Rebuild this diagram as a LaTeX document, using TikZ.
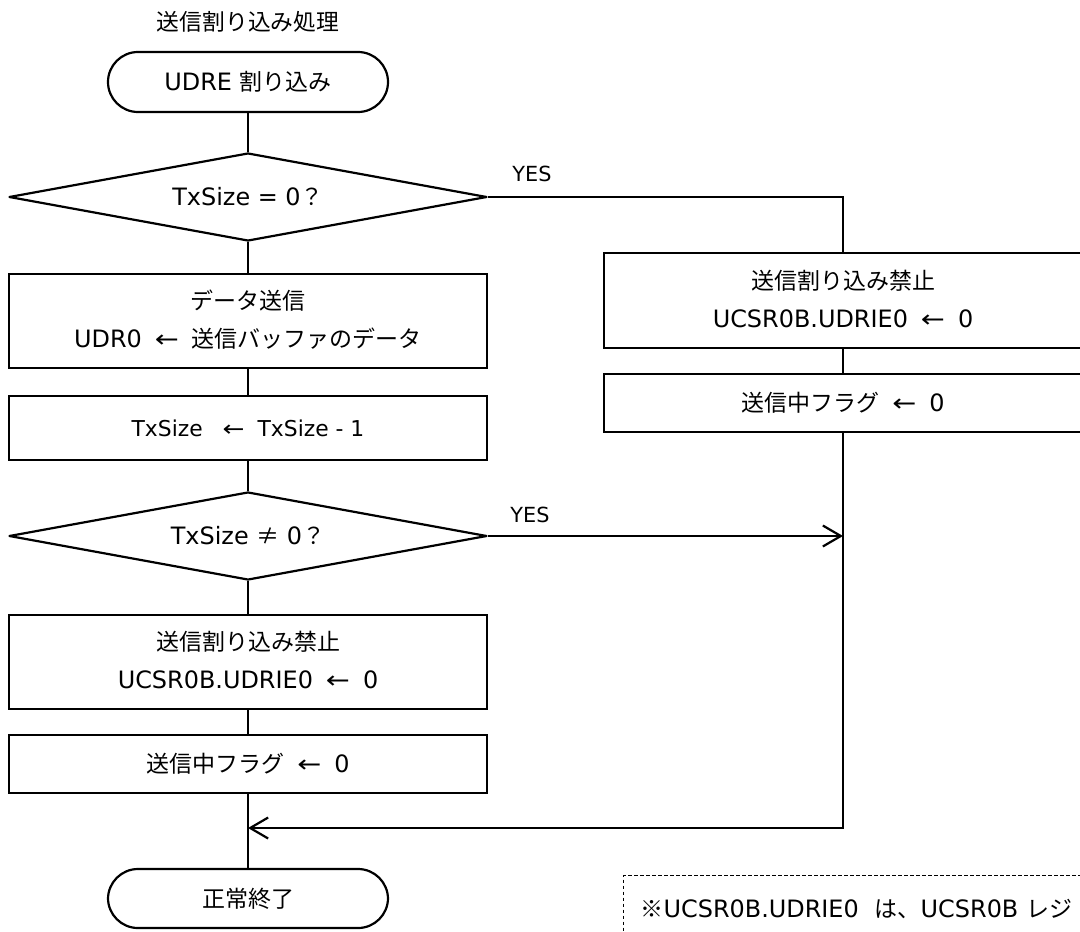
\documentclass[tikz,border=0pt]{standalone}
\usepackage{graphicx}
\usepackage{fontspec}
\setmainfont{DejaVu Sans}[Scale=1.04]
\newfontfamily\jp{Noto Sans CJK JP}
\usetikzlibrary{shapes.geometric,arrows.meta}
\newcommand\J[1]{{\jp #1}}
\newcommand\la{\hspace{6.5pt}\scalebox{1.2}[1]{←}\hspace{6.5pt}}
\newcommand\twol[2]{\raisebox{-2.5pt}{\begin{tabular}{@{}c@{}}#1\\#2\end{tabular}}}
\begin{document}
\begin{tikzpicture}[x=0.5pt,y=-0.5pt,
  every node/.style={font=\fontsize{11.5}{19}\selectfont},
  conn/.style={line width=1.1pt},
  proc/.style={draw,line width=1.1pt,rectangle,inner sep=0pt,minimum width=239pt,align=center},
  term/.style={draw,line width=1.1pt,rectangle,rounded corners=15pt,inner sep=0pt,minimum width=140pt,minimum height=30pt},
  decis/.style={draw,line width=1.1pt,line join=round,diamond,aspect=5.43,inner sep=0pt,minimum width=239pt,minimum height=44pt},
  arr/.style={line width=1.1pt,-{Straight Barb[length=9pt,width=10.5pt,line width=1.1pt]}},
  lbl/.style={font=\fontsize{10}{12}\selectfont},
  notebox/.style={draw,line width=0.6pt,dash pattern=on 1.8pt off 1.2pt,anchor=north west,inner xsep=8.5pt,inner ysep=0pt,minimum height=33pt,text width=330pt,align=left}
]
\clip (0,0) rectangle (1080,931);
\fill[white] (0,0) rectangle (1080,931);

\node[font=\fontsize{11.4}{13}\selectfont] (title) at (248,22) {\J{送信割り込み処理}};
\node[term] (start) at (248,82) {UDRE \J{割り込み}};
\node[decis] (d1) at (248,197) {TxSize = 0\J{？}};
\node[proc,minimum height=47pt] (b1) at (248,321) {\twol{\J{データ送信}}{UDR0\la\J{送信バッファのデータ}}};
\node[proc,minimum height=32pt,font=\fontsize{10.5}{13}\selectfont] (b2) at (248,428) {TxSize\ \la TxSize - 1};
\node[decis] (d2) at (248,536) {TxSize \J{≠} 0\J{？}};
\node[proc,minimum height=47pt] (b3) at (248,662) {\twol{\J{送信割り込み禁止}}{UCSR0B.UDRIE0\la 0}};
\node[proc,minimum height=29pt] (b4) at (248,764) {\J{送信中フラグ}\la 0};
\node[term,minimum height=29.5pt] (fin) at (248,898.5) {\J{正常終了}};

\node[proc,minimum height=47.5pt] (rb1) at (843,300.5) {\twol{\J{送信割り込み禁止}}{UCSR0B.UDRIE0\la 0}};
\node[proc,minimum height=29pt] (rb2) at (843,403) {\J{送信中フラグ}\la 0};

\node[lbl] (yes1) at (532,174) {YES};
\node[lbl] (yes2) at (530,515) {YES};

\coordinate (m) at (248,828);
\coordinate (j) at (843,536);

\draw[conn] (start) -- (d1);
\draw[conn] (d1) -- (b1);
\draw[conn] (b1) -- (b2);
\draw[conn] (b2) -- (d2);
\draw[conn] (d2) -- (b3);
\draw[conn] (b3) -- (b4);
\draw[conn] (b4) -- (fin);
\draw[conn] (d1.east) -| (rb1.north);
\draw[conn] (rb1) -- (rb2);
\draw[arr] (rb2.south) |- (m);
\draw[arr] (d2.east) -- (j);

\node[notebox] (note) at (623,875) {\J{※}UCSR0B.UDRIE0\ \ \J{は、}UCSR0B \J{レジ}};
\end{tikzpicture}
\end{document}
